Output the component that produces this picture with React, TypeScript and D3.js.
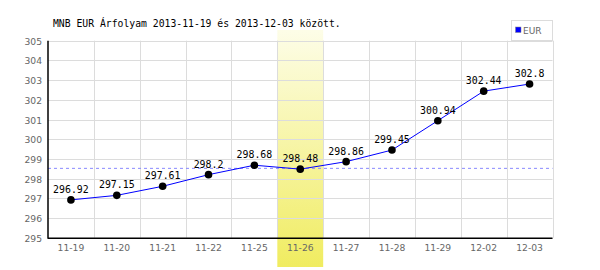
import React from "react";
import * as d3 from "d3";

const categories = ["11-19", "11-20", "11-21", "11-22", "11-25", "11-26", "11-27", "11-28", "11-29", "12-02", "12-03"];
const values = [296.92, 297.15, 297.61, 298.2, 298.68, 298.48, 298.86, 299.45, 300.94, 302.44, 302.8];
const labels = ["296.92", "297.15", "297.61", "298.2", "298.68", "298.48", "298.86", "299.45", "300.94", "302.44", "302.8"];
const yTicks = [295, 296, 297, 298, 299, 300, 301, 302, 303, 304, 305];
const referenceValue = 298.52;
const highlighted = "11-26";
const title = "MNB EUR Árfolyam 2013-11-19 és 2013-12-03 között.";
const seriesName = "EUR";

export default function App() {
  const W = 600, H = 270;
  const left = 48, right = 552.5, top = 40.7, bottom = 237.7;
  const x = d3.scaleBand<string>().domain(categories).range([left, right]);
  const y = d3.scaleLinear().domain([295, 305]).range([bottom, top]);
  const line = d3.line<number>().x((_, i) => x(categories[i])! + x.bandwidth() / 2).y((v) => y(v));
  const mono = "'DejaVu Sans Mono', monospace";
  const sans = "'DejaVu Sans', sans-serif";
  const hx = x(highlighted)!;
  return (
    <svg width={W} height={H} style={{ position: "absolute", left: 0, top: 0, background: "#fff" }}>
      <defs>
        <linearGradient id="hl" x1="0" y1="0" x2="0" y2="1">
          <stop offset="0" stopColor="#fdfde8" />
          <stop offset="1" stopColor="#f0ec60" />
        </linearGradient>
      </defs>
      <rect x={0} y={0} width={W} height={H} fill="#fff" />
      <rect x={hx} y={30} width={x.bandwidth()} height={237} fill="url(#hl)" />
      {yTicks.map((t) => (
        <line key={"h" + t} x1={left} x2={right} y1={Math.round(y(t)) + 0.5} y2={Math.round(y(t)) + 0.5} stroke="#dcdcdc" />
      ))}
      {categories.map((c, i) => (
        <line key={"v" + c} x1={Math.round(x(c)! + x.bandwidth()) + 0.5} x2={Math.round(x(c)! + x.bandwidth()) + 0.5} y1={top} y2={bottom} stroke="#dcdcdc" />
      ))}
      <line x1={left} x2={right} y1={y(referenceValue)} y2={y(referenceValue)} stroke="#8888ff" strokeDasharray="3,3" />
      <line x1={left} x2={left} y1={top} y2={bottom + 1} stroke="#000" strokeWidth={1.5} />
      <line x1={left} x2={right} y1={bottom + 0.5} y2={bottom + 0.5} stroke="#000" strokeWidth={1.5} />
      {yTicks.map((t) => (
        <text key={"yl" + t} x={42} y={y(t) + 4} textAnchor="end" fontFamily={sans} fontSize={9.2} fill="#666">{t}</text>
      ))}
      {categories.map((c) => (
        <text key={"xl" + c} x={x(c)! + x.bandwidth() / 2} y={251} textAnchor="middle" fontFamily={sans} fontSize={9.2} fill="#666">{c}</text>
      ))}
      <path d={line(values)!} fill="none" stroke="#0000ff" strokeWidth={1} />
      {values.map((v, i) => (
        <circle key={"p" + i} cx={x(categories[i])! + x.bandwidth() / 2} cy={y(v)} r={3.8} fill="#000" />
      ))}
      {values.map((v, i) => (
        <text key={"dl" + i} x={x(categories[i])! + x.bandwidth() / 2} y={y(v) - 7} textAnchor="middle" fontFamily={mono} fontSize={9.9} fill="#000">{labels[i]}</text>
      ))}
      <text x={53} y={27} fontFamily={mono} fontSize={9.75} fill="#000">{title}</text>
      <rect x={511.5} y={20.5} width={41} height={20} fill="#fff" stroke="#dcdcdc" />
      <rect x={515.5} y={27} width={5.5} height={5.5} fill="#0000ff" stroke="#888" strokeWidth={0.5} />
      <text x={523} y={33.5} fontFamily={sans} fontSize={9} fill="#666">{seriesName}</text>
    </svg>
  );
}
